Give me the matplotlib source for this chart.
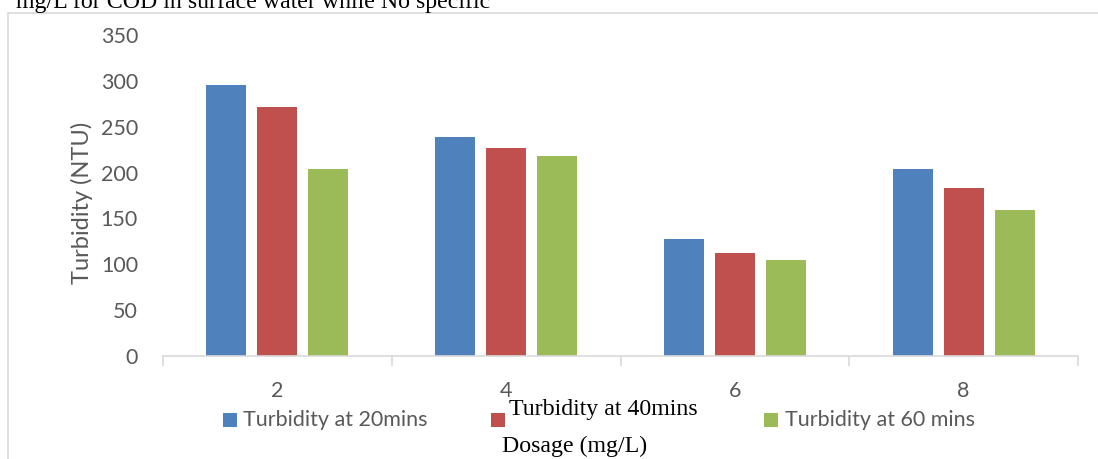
import matplotlib
matplotlib.use("Agg")
import matplotlib.pyplot as plt
import numpy as np
from matplotlib.patches import Rectangle

categories = ["2", "4", "6", "8"]
series_names = ["Turbidity at 20mins", "Turbidity at 40mins", "Turbidity at 60 mins"]
t20 = [295, 239, 128, 204]
t40 = [272, 227, 112, 183]
t60 = [204, 218, 105, 159]
colors = ["#4F81BD", "#C0504D", "#9BBB59"]
yticks = [0, 50, 100, 150, 200, 250, 300, 350]

SANS = ["Lato", "DejaVu Sans"]
SERIF = ["Liberation Serif", "DejaVu Serif"]
GRAY = "#595959"

W, H = 1098, 459
fig = plt.figure(figsize=(W / 100, H / 100), dpi=100)

def fx(px):
    return px / W

def fy(py):
    return 1 - py / H

# outer chart frame (light gray)
fig.add_artist(Rectangle((fx(8), fy(470)), fx(1200), fy(13) - fy(470), transform=fig.transFigure,
                         fill=False, edgecolor="#D9D9D9", linewidth=1.2))

ax = fig.add_axes([fx(163), fy(356), fx(1078) - fx(163), fy(35) - fy(356)])
n = len(categories)
x = np.arange(n)
width = 0.175
step = 0.223
for i, (vals, c) in enumerate(zip([t20, t40, t60], colors)):
    ax.bar(x + (i - 1) * step, vals, width=width, color=c, label=series_names[i])

ax.set_xlim(-0.5, n - 0.5)
ax.set_ylim(0, 350)
ax.set_yticks(yticks)
ax.set_yticklabels([str(v) for v in yticks], fontsize=15.5, color=GRAY, family=SANS)
ax.tick_params(axis="y", length=0, pad=18)
ax.set_xticks(x)
ax.set_xticklabels(categories, fontsize=15.5, color=GRAY, family=SANS)
ax.tick_params(axis="x", length=0, pad=18)
ax.set_xticks(np.arange(-0.5, n, 1.0), minor=True)
ax.tick_params(axis="x", which="minor", length=7, color="#D9D9D9", width=1.2, direction="out")
for s in ["top", "right", "left"]:
    ax.spines[s].set_visible(False)
ax.spines["bottom"].set_color("#D9D9D9")
ax.spines["bottom"].set_linewidth(1.2)

fig.text(fx(82), fy(203), "Turbidity (NTU)", rotation=90, ha="center", va="center",
         fontsize=17, color=GRAY, family=SANS)

# legend items: (square x, text x, text center y, family, size, color)
legend_spec = [(223, 243, 420, SANS, 15.5, GRAY),
               (491, 509, 410, SERIF, 17.2, "black"),
               (764, 785, 420, SANS, 15.5, GRAY)]
sq = 14
for name, c, (sx, tx, ty, fam, fs, tc) in zip(series_names, colors, legend_spec):
    fig.add_artist(Rectangle((fx(sx), fy(427)), fx(sq), fy(413) - fy(427), transform=fig.transFigure,
                             facecolor=c, edgecolor="none"))
    fig.text(fx(tx), fy(ty), name, ha="left", va="center", fontsize=fs, color=tc, family=fam)

fig.text(fx(502), fy(452), "Dosage (mg/L)", ha="left", va="baseline", fontsize=17.2, color="black", family=SERIF)
fig.text(fx(16), fy(8), "mg/L for COD in surface water while No specific", ha="left", va="baseline",
         fontsize=17.2, color="black", family=SERIF)

fig.savefig("out.png", dpi=100)
